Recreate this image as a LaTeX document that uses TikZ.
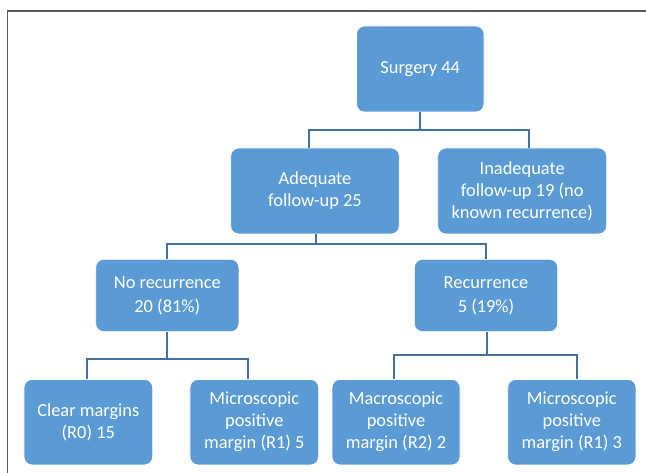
\documentclass[tikz,border=0pt]{standalone}
\usepackage{fontspec}
\setmainfont{Carlito}
\begin{document}
\begin{tikzpicture}[x=1pt,y=-1pt,
  box/.style={draw=white,line width=0.8pt,fill=boxblue,rounded corners=8pt,
    text=white,align=center,inner sep=0pt,
    font=\fontsize{18.4}{22}\selectfont},
  midbox/.style={box,font=\fontsize{18.4}{24}\selectfont},
  conn/.style={draw=connblue,line width=2pt},
  frameline/.style={draw=framegray,line width=1.5pt}]
\definecolor{boxblue}{HTML}{5B9BD5}
\definecolor{connblue}{HTML}{41719C}
\definecolor{framegray}{HTML}{5A5A5A}
\useasboundingbox (0,0) rectangle (646,473);
\fill[white] (0,0) rectangle (646,473);
\draw[frameline] (7.5,473) -- (7.5,11) -- (646,11);

\node[box,minimum width=127.5pt,minimum height=86pt] (sur) at (420.25,69) {Surgery 44};
\node[box,minimum width=168.6pt,minimum height=86pt] (ad) at (315,191) {Adequate\\follow-up 25};
\node[box,minimum width=169pt,minimum height=86pt] (inad) at (522.2,191) {Inadequate\\follow-up 19 (no\\known recurrence)};
\node[midbox,minimum width=143.3pt,minimum height=72.4pt] (nor) at (167.3,295.5) {No recurrence\\20 (81\%)};
\node[midbox,minimum width=143.4pt,minimum height=72.4pt] (rec) at (486,295.5) {Recurrence\\5 (19\%)};
\node[box,minimum width=128.7pt,minimum height=85.5pt] (b1) at (88.3,422.2) {Clear margins\\(R0) 15};
\node[box,minimum width=128.7pt,minimum height=85.5pt] (b2) at (254.3,422.2) {Microscopic\\positive\\margin (R1) 5};
\node[box,minimum width=128pt,minimum height=85.5pt] (b3) at (396,422.2) {Macroscopic\\positive\\margin (R2) 2};
\node[box,minimum width=128.3pt,minimum height=85.5pt] (b4) at (571.8,422.2) {Microscopic\\positive\\margin (R1) 3};

\draw[conn] (sur.south) -- ++(0,18) coordinate (h1);
\draw[conn] ([xshift=-6.2pt]ad.north) |- (h1) -| ([xshift=6.8pt]inad.north);
\draw[conn] ([xshift=0.7pt]ad.south) -- ++(0,10) coordinate (h2);
\draw[conn] (nor.north) |- (h2) -| (rec.north);
\draw[conn] (nor.south) -- ++(0,27.3) coordinate (h3);
\draw[conn] ([xshift=-1.6pt]b1.north) |- (h3) -| ([xshift=-6.3pt]b2.north);
\draw[conn] ([xshift=0.7pt]rec.south) -- ++(0,23.3) coordinate (h4);
\draw[conn] ([xshift=-2pt]b3.north) |- (h4) -| ([xshift=5.2pt]b4.north);
\end{tikzpicture}
\end{document}
